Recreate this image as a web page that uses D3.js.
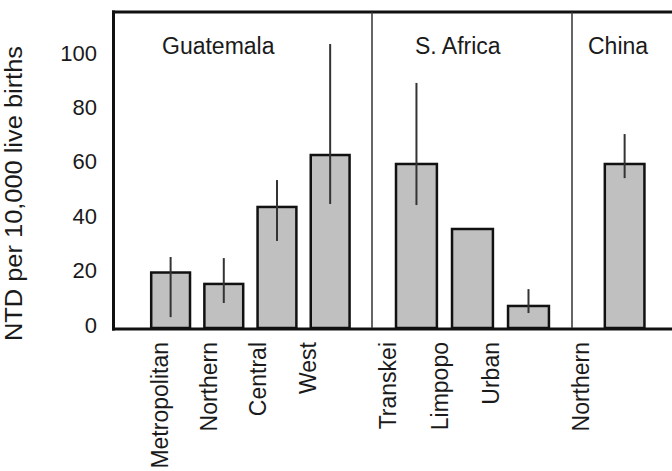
<!DOCTYPE html>
<html>
<head>
<meta charset="utf-8">
<script src="https://cdn.jsdelivr.net/npm/d3@7"></script>
<style>
  body { margin: 0; background: #fff; }
  svg { display: block; font-family: "Liberation Sans", Arial, sans-serif; }
</style>
</head>
<body>
<svg id="chart" width="672" height="471"></svg>
<script>
// NTD rates by region (per 10,000 live births)
const regions   = ["Metropolitan", "Northern", "Central", "West", "Transkei", "Limpopo", "Urban", "Northern"];
const countries = ["Guatemala", "Guatemala", "Guatemala", "Guatemala", "S. Africa", "S. Africa", "S. Africa", "China"];
const rates     = [20.4, 16.2, 44.5, 63.6, 60.3, 36.4, 8.1, 60.3];
const ciLow     = [4.0, 9.2, 32.0, 45.6, 45.2, null, 5.5, 55.1];
const ciHigh    = [26.1, 25.7, 54.4, 104.4, 90.1, null, 14.3, 71.3];
const groups    = ["Guatemala", "S. Africa", "China"];
const yTicks    = [0, 20, 40, 60, 80, 100];

// panel layout (pixels)
const panels = [
    {x0: 113, x1: 372, padOuter: 0.57, align: 0.63, labelX: 162},
    {x0: 372, x1: 572, padOuter: 0.42, align: 0.51, labelX: 415},
    {x0: 572, x1: 680, padOuter: 0.63, align: 0.48, labelX: 588}
];

const svg = d3.select("#chart");
const plotTop = 12, plotBottom = 328;

const y = d3.scaleLinear().domain([0, 100]).range([plotBottom, 56]);

// the category labels sit a bit compressed compared with the bars
const labelShift = d3.scaleLinear().domain([113, 680]).range([114.3, 639.9]);

const rows = regions.map((r, i) => ({
    region: r, country: countries[i], rate: rates[i], lo: ciLow[i], hi: ciHigh[i], idx: i
}));

const xScales = groups.map((g, gi) => {
    const p = panels[gi];
    return d3.scaleBand()
        .domain(rows.filter(d => d.country === g).map(d => d.idx))
        .range([p.x0, p.x1])
        .paddingInner(0.27)
        .paddingOuter(p.padOuter)
        .align(p.align);
});

const xOf = d => xScales[groups.indexOf(d.country)](d.idx);
const bw = d => xScales[groups.indexOf(d.country)].bandwidth();

// bars
svg.append("g").selectAll("rect")
    .data(rows)
    .enter().append("rect")
    .attr("x", d => xOf(d))
    .attr("y", d => y(d.rate))
    .attr("width", d => bw(d))
    .attr("height", d => y(0) - y(d.rate))
    .attr("fill", "#c0c0c0")
    .attr("stroke", "#111")
    .attr("stroke-width", 2.5);

// error bars
svg.append("g").selectAll("line")
    .data(rows.filter(d => d.lo != null))
    .enter().append("line")
    .attr("x1", d => xOf(d) + bw(d) / 2)
    .attr("x2", d => xOf(d) + bw(d) / 2)
    .attr("y1", d => y(d.lo))
    .attr("y2", d => y(d.hi))
    .attr("stroke", "#333")
    .attr("stroke-width", 2);

// frame
const frame = svg.append("g").attr("stroke", "#111");
frame.append("line").attr("x1", 112).attr("x2", 672).attr("y1", plotTop).attr("y2", plotTop).attr("stroke-width", 3);
frame.append("line").attr("x1", 113.5).attr("x2", 113.5).attr("y1", plotTop - 1.5).attr("y2", plotBottom + 2.5).attr("stroke-width", 3);
frame.append("line").attr("x1", 112).attr("x2", 672).attr("y1", plotBottom + 1).attr("y2", plotBottom + 1).attr("stroke-width", 3);
frame.selectAll(".div")
    .data(panels.slice(1))
    .enter().append("line")
    .attr("x1", p => p.x0).attr("x2", p => p.x0)
    .attr("y1", plotTop).attr("y2", plotBottom)
    .attr("stroke", "#333")
    .attr("stroke-width", 1.5);

// country labels
svg.append("g").selectAll("text")
    .data(groups)
    .enter().append("text")
    .attr("x", (g, i) => panels[i].labelX)
    .attr("y", 54)
    .attr("font-size", 23)
    .attr("fill", "#1a1a1a")
    .text(g => g);

// y axis
const yAxis = svg.append("g")
    .attr("transform", "translate(113,0)")
    .call(d3.axisLeft(y).tickValues(yTicks).tickSize(0).tickPadding(16));
yAxis.select(".domain").remove();
yAxis.selectAll("text")
    .attr("font-size", 22)
    .attr("font-family", "Liberation Sans, Arial, sans-serif")
    .attr("fill", "#1a1a1a")
    .attr("y", -3);

svg.append("text")
    .attr("transform", "translate(21.5,193.5) rotate(-90)")
    .attr("text-anchor", "middle")
    .attr("font-size", 23)
    .attr("textLength", 295)
    .attr("lengthAdjust", "spacingAndGlyphs")
    .attr("fill", "#1a1a1a")
    .text("NTD per 10,000 live births");

// category labels
svg.append("g").selectAll("text")
    .data(rows)
    .enter().append("text")
    .attr("transform", d => `translate(${labelShift(xOf(d) + bw(d) / 2)},342) rotate(-90)`)
    .attr("text-anchor", "end")
    .attr("font-size", 23)
    .attr("fill", "#1a1a1a")
    .text(d => d.region);
</script>
</body>
</html>
